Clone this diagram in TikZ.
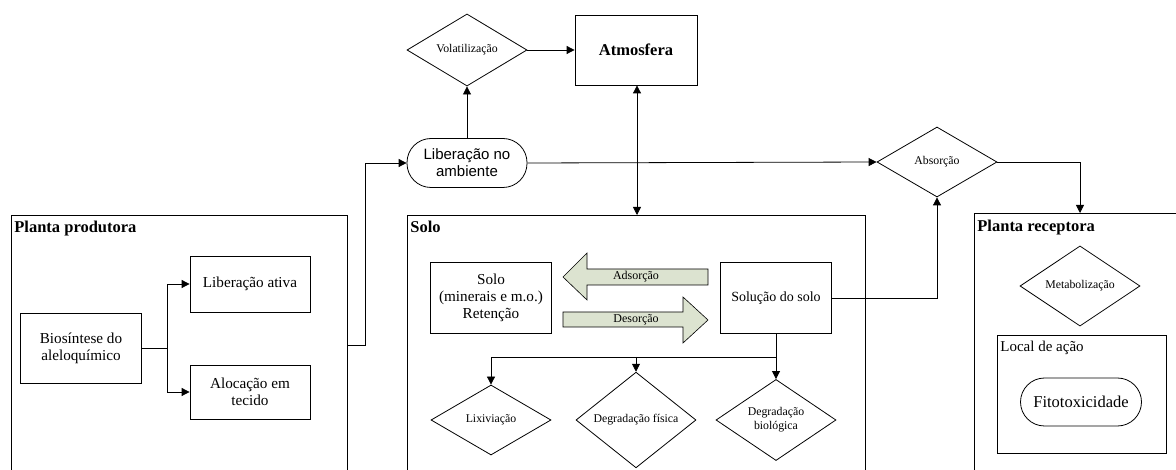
\documentclass[tikz,border=0pt]{standalone}
\usepackage{fontspec}
\setmainfont{Liberation Serif}
\newfontfamily\timesfont{Liberation Serif}
\newfontfamily\arialfont{Liberation Sans}
\usetikzlibrary{shapes.geometric,arrows.meta}
\definecolor{blockfill}{HTML}{DCE3D0}
\tikzset{
  every path/.style={line width=0.8pt},
  tip/.style={-{Triangle[length=8pt,width=8pt]}},
  dtip/.style={{Triangle[length=8pt,width=8pt]}-{Triangle[length=8pt,width=8pt]}},
  pbox/.style={draw, rectangle, inner sep=2pt, align=center, font=\timesfont\fontsize{15.2}{17}\selectfont},
  dia/.style={draw, diamond, minimum width=120pt, minimum height=70pt, inner sep=0pt, align=center, font=\timesfont\fontsize{11.8}{14}\selectfont},
  stad/.style={draw, rectangle, rounded corners=24pt, inner sep=0pt, align=center},
  title/.style={anchor=base west, inner sep=0pt, font=\timesfont\bfseries\fontsize{16.5}{18}\selectfont},
  blab/.style={inner sep=0pt, font=\timesfont\fontsize{12}{14}\selectfont},
}
\begin{document}
\begin{tikzpicture}[x=1pt,y=-1pt]
\useasboundingbox (0,0) rectangle (1176,470);
% group boxes (open at bottom)
\draw (11,470) -- (11,215) -- (347,215) -- (347,470);
\draw (407,470) -- (407,215) -- (865,215) -- (865,470);
\draw (974,470) -- (974,213) -- (1176,213);
\node[title] (tprod) at (14,233) {Planta produtora};
\node[title] (tsolo) at (410,233) {Solo};
\node[title] (trec) at (977,232) {Planta receptora};
\coordinate (prodR) at (347,345);
\coordinate (soloT) at (637,215);
\coordinate (recT) at (1080,213);

% Planta produtora
\node[pbox, minimum width=121pt, minimum height=70pt] (bio) at (81,348) {Biosíntese do\\aleloquímico};
\node[pbox, minimum width=120pt, minimum height=56pt] (ativa) at (250,284) {Liberação ativa};
\node[pbox, minimum width=120pt, minimum height=54pt] (aloc) at (250,392) {Alocação em\\tecido};
\coordinate (j1) at (167,348);
\draw (bio.east) -- (j1);
\draw[tip] (j1) |- (ativa.west);
\draw[tip] (j1) |- (aloc.west);

% Top
\node[stad, minimum width=120pt, minimum height=49pt, font=\arialfont\fontsize{15}{17}\selectfont] (lib) at (467,163) {Liberação no\\ambiente};
\node[dia] (vol) at (467,50) {Volatilização};
\node[pbox, minimum width=122pt, minimum height=70pt, font=\timesfont\bfseries\fontsize{16.5}{18}\selectfont] (atm) at (636,50) {Atmosfera};
\node[dia] (abs) at (937,162) {Absorção};
\draw[tip] (prodR) -- (365,345) |- (lib.west);
\draw[tip] (lib.north) -- (vol.south);
\draw[tip] (vol.east) -- (atm.west);
\draw[dtip] (atm.south -| soloT) -- (soloT);
\draw[tip] (lib.east) -- (abs.west);
\draw[tip] (abs.east) -| (recT);

% Solo
\node[pbox, minimum width=121pt, minimum height=71pt] (solo) at (491,298) {Solo\\(minerais e m.o.)\\Retenção};
\node[pbox, minimum width=111pt, minimum height=71pt, font=\timesfont\fontsize{14}{16}\selectfont] (sol) at (776,298) {Solução do solo};
\draw[fill=blockfill, line width=0.6pt] (708,269) -- (587,269) -- (587,253) -- (563,277) -- (587,300) -- (587,285) -- (708,285) -- cycle;
\draw[fill=blockfill, line width=0.6pt] (563,312) -- (683,312) -- (683,297) -- (708,320) -- (683,343) -- (683,327) -- (563,327) -- cycle;
\node[blab] (ads) at (636,277) {Adsorção};
\node[blab] (des) at (636,320) {Desorção};
\node[dia] (lix) at (491,420) {Lixiviação};
\node[dia] (dfis) at (636,420) {Degradação física};
\node[dia] (dbio) at (776,420) {Degradação\\biológica};
\coordinate (j2) at (776,357);
\draw (sol.south) -- (j2);
\draw[tip] (j2) -| (lix.north);
\draw[tip] (dfis.north |- j2) -- (dfis.north);
\draw[tip] (j2) -- (dbio.north);
\draw[tip] (sol.east) -| (abs.south);

% Planta receptora
\node[dia] (met) at (1080,286) {Metabolização};
\node[draw, rectangle, minimum width=169pt, minimum height=118pt, inner sep=0pt] (local) at (1081.5,394) {};
\node[anchor=base west, inner sep=0pt, font=\timesfont\fontsize{15}{17}\selectfont] (tlocal) at (1000,352) {Local de ação};
\node[stad, minimum width=121pt, minimum height=48pt, font=\timesfont\fontsize{16.5}{18}\selectfont] (fito) at (1081,402) {Fitotoxicidade};
\end{tikzpicture}
\end{document}
